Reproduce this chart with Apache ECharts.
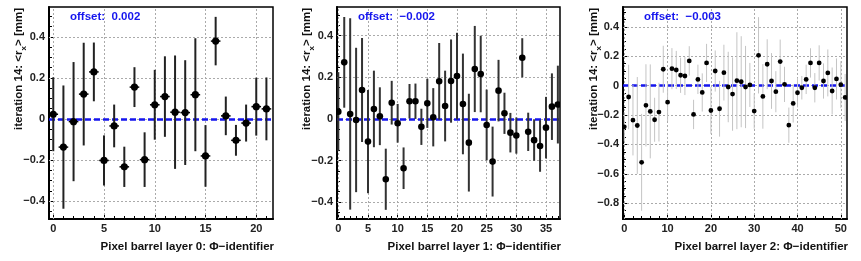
<!DOCTYPE html>
<html><head><meta charset="utf-8">
<script src="https://cdn.jsdelivr.net/npm/echarts@6/dist/echarts.min.js"></script>
<style>html,body{margin:0;padding:0;background:#fff}#c{width:861px;height:261px}</style>
</head><body><div id="c"></div>
<script>
// ---- data ----
const layer0Mean = [0.023, -0.137, -0.013, 0.121, 0.229, -0.202, -0.034, -0.233, 0.155, -0.198, 0.069, 0.109, 0.033, 0.031, 0.118, -0.180, 0.379, 0.015, -0.104, -0.020, 0.060, 0.049];
const layer0Err  = [0.18, 0.30, 0.29, 0.25, 0.143, 0.122, 0.104, 0.098, 0.097, 0.133, 0.17, 0.196, 0.276, 0.255, 0.275, 0.15, 0.118, 0.094, 0.075, 0.09, 0.141, 0.153];
const layer1Mean = [0.035, 0.272, 0.024, -0.005, 0.139, -0.109, 0.048, 0.013, -0.290, 0.078, -0.021, -0.237, 0.085, 0.085, -0.038, 0.075, 0.008, 0.181, 0.062, 0.182, 0.206, 0.072, -0.114, 0.240, 0.216, -0.029, -0.205, 0.136, 0.027, -0.066, -0.080, 0.294, -0.062, -0.102, -0.130, -0.042, 0.059, 0.069];
const layer1Err  = [0.19, 0.218, 0.46, 0.347, 0.25, 0.248, 0.184, 0.139, 0.147, 0.105, 0.093, 0.10, 0.083, 0.085, 0.087, 0.118, 0.14, 0.184, 0.17, 0.2, 0.208, 0.242, 0.235, 0.207, 0.184, 0.17, 0.168, 0.148, 0.099, 0.095, 0.087, 0.094, 0.092, 0.099, 0.124, 0.148, 0.16, 0.187];
const layer2Mean = [-0.28, -0.077, -0.235, -0.271, -0.522, -0.134, -0.175, -0.232, -0.18, 0.112, -0.112, 0.116, 0.107, 0.071, 0.066, 0.169, -0.196, 0.043, -0.046, 0.155, -0.169, 0.1, -0.157, 0.089, -0.009, -0.057, 0.034, 0.027, -0.009, 0.005, -0.173, 0.207, -0.073, 0.146, 0.032, -0.041, 0.164, 0.009, -0.269, -0.121, -0.048, -0.014, 0.043, 0.155, -0.014, 0.155, 0.032, 0.087, -0.036, 0.046, 0.007, -0.08];
const layer2Err  = [0.1, 0.22, 0.24, 0.33, 0.33, 0.28, 0.32, 0.15, 0.2, 0.16, 0.13, 0.14, 0.13, 0.12, 0.13, 0.1, 0.1, 0.1, 0.13, 0.13, 0.16, 0.14, 0.19, 0.19, 0.24, 0.25, 0.33, 0.31, 0.28, 0.15, 0.12, 0.26, 0.22, 0.17, 0.19, 0.14, 0.15, 0.12, 0.12, 0.13, 0.1, 0.08, 0.1, 0.1, 0.1, 0.12, 0.12, 0.16, 0.16, 0.14, 0.16, 0.16];
const offsets = [0.002, -0.002, -0.003];
const offsetLabels = ['offset:  0.002', 'offset:  \u22120.002', 'offset:  \u22120.003'];
const xTitles = ['Pixel barrel layer 0: \u03a6\u2212identifier', 'Pixel barrel layer 1: \u03a6\u2212identifier', 'Pixel barrel layer 2: \u03a6\u2212identifier'];
const xTicks0 = [0, 5, 10, 15, 20];
const xTicks1 = [0, 5, 10, 15, 20, 25, 30, 35];
const xTicks2 = [0, 10, 20, 30, 40, 50];
const yTicks01 = [-0.4, -0.2, 0, 0.2, 0.4];
const yTicks2 = [-0.8, -0.6, -0.4, -0.2, 0, 0.2, 0.4];

function range(a, b, s) { const r = []; for (let v = a; v <= b + 1e-9; v += s) r.push(+v.toFixed(4)); return r; }

const panels = [
  { mean: layer0Mean, err: layer0Err, box: [49, 7, 224, 212], xr: [-0.42, 21.65], yr: [-0.487, 0.545],
    xt: xTicks0, xm: range(0, 21, 1), yt: yTicks01, ym: range(-0.45, 0.5, 0.05),
    bar: '#222', bw: 2, r: 3.6, hbar: 4.8, yTitleX: 19, offX: 70 },
  { mean: layer1Mean, err: layer1Err, box: [337, 7, 223, 212], xr: [-0.22, 37.36], yr: [-0.481, 0.538],
    xt: xTicks1, xm: range(0, 37, 1), yt: yTicks01, ym: range(-0.45, 0.5, 0.05),
    bar: '#333', bw: 2, r: 3.3, hbar: 0, yTitleX: 307, offX: 358 },
  { mean: layer2Mean, err: layer2Err, box: [623, 7, 224, 212], xr: [-0.3, 51.43], yr: [-0.908, 0.536],
    xt: xTicks2, xm: range(0, 50, 2), yt: yTicks2, ym: range(-0.9, 0.5, 0.05),
    bar: '#c4c4c4', bw: 1, r: 2.4, hbar: 0, yTitleX: 594, offX: 644 }
];

const FONT = 'Liberation Sans';
const fmt = v => (Math.abs(v) < 1e-9 ? '0' : String(+v.toFixed(1)).replace('-', '\u2212'));

const grids = [], xAxes = [], yAxes = [], series = [], graphics = [];
panels.forEach((p, i) => {
  grids.push({ left: p.box[0], top: p.box[1], width: p.box[2], height: p.box[3], show: true, borderColor: '#000', borderWidth: 1.5, backgroundColor: 'transparent' });
  const common = { type: 'value', gridIndex: i, splitLine: { show: false } };
  xAxes.push(Object.assign({}, common, { min: p.xr[0], max: p.xr[1], position: 'bottom',
    axisLine: { show: true, onZero: false, lineStyle: { color: '#000', width: 2 } },
    axisTick: { show: true, inside: true, length: 6, customValues: p.xt, lineStyle: { color: '#000', width: 1 } },
    axisLabel: { show: true, customValues: p.xt, formatter: fmt, margin: 4, fontFamily: FONT, fontWeight: 'bold', fontSize: 11, color: '#222' } }));
  xAxes.push(Object.assign({}, common, { min: p.xr[0], max: p.xr[1], position: 'bottom',
    axisLine: { show: false, onZero: false },
    axisTick: { show: true, inside: true, length: 3, customValues: p.xm, lineStyle: { color: '#000', width: 1 } },
    axisLabel: { show: false } }));
  yAxes.push(Object.assign({}, common, { min: p.yr[0], max: p.yr[1], position: 'left',
    axisLine: { show: true, onZero: false, lineStyle: { color: '#000', width: 2 } },
    axisTick: { show: true, inside: true, length: 6, customValues: p.yt, lineStyle: { color: '#000', width: 1 } },
    axisLabel: { show: true, customValues: p.yt, formatter: fmt, margin: 4, fontFamily: FONT, fontWeight: 'bold', fontSize: 11, color: '#222' } }));
  yAxes.push(Object.assign({}, common, { min: p.yr[0], max: p.yr[1], position: 'left',
    axisLine: { show: false, onZero: false },
    axisTick: { show: true, inside: true, length: 3, customValues: p.ym, lineStyle: { color: '#000', width: 1 } },
    axisLabel: { show: false } }));

  // grid lines + offset line
  series.push({
    type: 'line', xAxisIndex: 2 * i, yAxisIndex: 2 * i, data: [], silent: true, z: 1,
    markLine: { silent: true, symbol: 'none', label: { show: false }, animation: false,
      lineStyle: { color: '#aaa', width: 1, type: [2, 2] },
      data: p.xt.map(v => ({ xAxis: v })).concat(p.yt.map(v => ({ yAxis: v }))) }
  });
  series.push({
    type: 'line', xAxisIndex: 2 * i, yAxisIndex: 2 * i, data: [], silent: true, z: 3,
    markLine: { silent: true, symbol: 'none', label: { show: false }, animation: false,
      lineStyle: { color: '#1515ee', width: 2.6, type: [6, 3] },
      data: [{ yAxis: offsets[i] }] }
  });
  // error bars + markers
  series.push({
    type: 'custom', xAxisIndex: 2 * i, yAxisIndex: 2 * i, z: 5, clip: true, animation: false,
    data: p.mean.map((m, k) => [k, m, p.err[k]]),
    encode: { x: 0, y: 1 },
    renderItem: function (params, api) {
      const x = api.value(0), y = api.value(1), e = api.value(2);
      const c = api.coord([x, y]), t = api.coord([x, y + e]), b = api.coord([x, y - e]);
      const ch = [{ type: 'line', shape: { x1: c[0], y1: t[1], x2: c[0], y2: b[1] }, style: { stroke: p.bar, lineWidth: p.bw } }];
      if (p.hbar) ch.push({ type: 'line', shape: { x1: c[0] - p.hbar, y1: c[1], x2: c[0] + p.hbar, y2: c[1] }, style: { stroke: '#000', lineWidth: 1.5 } });
      ch.push({ type: 'circle', shape: { cx: c[0], cy: c[1], r: p.r }, style: { fill: '#000' }, z2: 10 });
      return { type: 'group', children: ch };
    }
  });

  graphics.push({ type: 'text', x: p.offX, y: 17, z: 100,
    style: { text: offsetLabels[i], fill: '#1515ee', font: 'bold 11.5px ' + FONT, verticalAlign: 'middle', align: 'left' } });
  graphics.push({ type: 'text', x: p.box[0] + p.box[2] + 1, y: 247, z: 100,
    style: { text: xTitles[i], fill: '#111', font: 'bold 11.5px ' + FONT, verticalAlign: 'middle', align: 'right' } });
  graphics.push({ type: 'text', x: p.yTitleX, y: 8, rotation: Math.PI / 2, z: 100,
    style: { text: 'iteration 14: <r{s|x}> [mm]', fill: '#111', font: 'bold 11.5px ' + FONT, align: 'right', verticalAlign: 'middle',
      rich: { s: { fontSize: 8, fontWeight: 'bold', fontFamily: FONT, fill: '#111', verticalAlign: 'bottom', lineHeight: 18 } } } });
});

const chart = echarts.init(document.getElementById('c'), null, { renderer: 'canvas' });
chart.setOption({
  animation: false,
  backgroundColor: '#fff',
  grid: grids, xAxis: xAxes, yAxis: yAxes, series: series, graphic: graphics
});
</script>
</body></html>
